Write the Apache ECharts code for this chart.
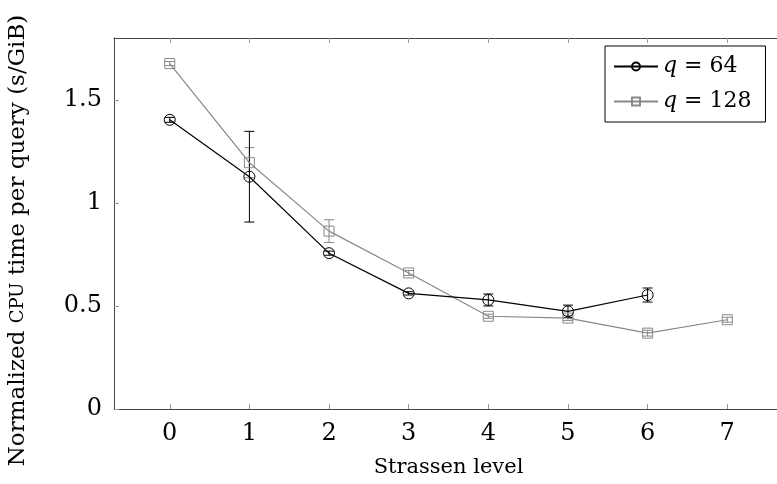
<!DOCTYPE html>
<html>
<head>
<meta charset="utf-8">
<script src="https://cdn.jsdelivr.net/npm/echarts@6/dist/echarts.min.js"></script>
<style>
  html, body { margin: 0; padding: 0; background: #fff; }
  #chart { width: 777px; height: 484px; }
</style>
</head>
<body>
<div id="chart"></div>
<script>
// Strassen level
let levels64 = [0, 1, 2, 3, 4, 5, 6];
let levels128 = [0, 1, 2, 3, 4, 5, 6, 7];

// normalized cpu time (s/GiB)
let q64 = [1.403, 1.127, 0.756, 0.561, 0.529, 0.474, 0.553];
let q64Err = [0.012, 0.22, 0.01, 0.008, 0.029, 0.03, 0.034];

let q128 = [1.676, 1.195, 0.863, 0.66, 0.45, 0.441, 0.368, 0.433];
let q128Err = [0.01, 0.073, 0.055, 0.012, 0.01, 0.012, 0.014, 0.012];

let xTicks = [0, 1, 2, 3, 4, 5, 6, 7];
let yTicks = [0, 0.5, 1, 1.5];

const FONT = 'DejaVu Serif';
const GREY = '#888888';

let chart = echarts.init(document.getElementById('chart'), null, { renderer: 'canvas' });

function pairs(xs, ys) {
  return xs.map((x, i) => [x, ys[i]]);
}

function errData(xs, ys, es) {
  return xs.map((x, i) => [x, ys[i] - es[i], ys[i] + es[i]]);
}

//误差线
function errSeries(name, data, color) {
  return {
    name: name,
    type: 'custom',
    silent: true,
    z: 3,
    data: data,
    renderItem(params, api) {
      let x = api.value(0);
      let lo = api.coord([x, api.value(1)]);
      let hi = api.coord([x, api.value(2)]);
      let w = 5;
      let style = { stroke: color, lineWidth: 1 };
      return {
        type: 'group',
        children: [
          { type: 'line', shape: { x1: lo[0], y1: lo[1], x2: hi[0], y2: hi[1] }, style },
          { type: 'line', shape: { x1: lo[0] - w, y1: lo[1], x2: lo[0] + w, y2: lo[1] }, style },
          { type: 'line', shape: { x1: hi[0] - w, y1: hi[1], x2: hi[0] + w, y2: hi[1] }, style }
        ]
      };
    }
  };
}

let tickStyle = { color: '#999', width: 1 };
let frameStyle = { color: '#444', width: 1 };

let option = {
  backgroundColor: '#ffffff',
  animation: false,
  grid: { left: 114, top: 38, width: 669, height: 371, containLabel: false, outerBoundsMode: 'none' },
  legend: {
    left: 605,
    top: 46,
    orient: 'vertical',
    data: ['q64', 'q128'],
    backgroundColor: '#fff',
    borderColor: '#000',
    borderWidth: 1,
    borderRadius: 0,
    padding: [6, 14, 6, 8],
    itemGap: 6,
    itemWidth: 44,
    itemHeight: 10,
    formatter: name => name === 'q64' ? '{i|q} = 64' : '{i|q} = 128',
    textStyle: {
      fontFamily: FONT,
      fontSize: 22,
      lineHeight: 29,
      color: '#000',
      rich: {
        i: { fontFamily: FONT, fontStyle: 'italic', fontSize: 22, lineHeight: 29, color: '#000' }
      }
    }
  },
  xAxis: [{
    type: 'value',
    min: -0.7,
    max: 7.7,
    name: 'Strassen level',
    nameLocation: 'middle',
    nameGap: 48,
    nameTextStyle: { fontFamily: FONT, fontSize: 21, color: '#000' },
    axisLine: { show: true, lineStyle: frameStyle },
    axisTick: { show: true, inside: true, length: 5, customValues: xTicks, lineStyle: tickStyle },
    axisLabel: { customValues: xTicks, margin: 13, fontFamily: FONT, fontSize: 24, color: '#000' },
    splitLine: { show: false }
  }, {
    type: 'value',
    position: 'top',
    min: -0.7,
    max: 7.7,
    axisLine: { show: true, onZero: false, lineStyle: frameStyle },
    axisTick: { show: true, inside: true, length: 5, customValues: xTicks, lineStyle: tickStyle },
    axisLabel: { show: false },
    splitLine: { show: false }
  }],
  yAxis: {
    type: 'value',
    min: 0,
    max: 1.8,
    name: 'Normalized {sc|CPU} time per query (s/GiB)',
    nameLocation: 'middle',
    nameGap: 84,
    nameRotate: 90,
    nameTextStyle: {
      fontFamily: FONT, fontSize: 23, color: '#000',
      padding: [0, 34, 0, 0],
      rich: { sc: { fontFamily: FONT, fontSize: 18, color: '#000' } }
    },
    axisLine: { show: true, onZero: false, lineStyle: frameStyle },
    axisTick: { show: true, inside: true, length: 5, customValues: yTicks, lineStyle: tickStyle },
    axisLabel: { customValues: yTicks, margin: 12, fontFamily: FONT, fontSize: 24, color: '#000' },
    splitLine: { show: false }
  },
  series: [
    errSeries('err128', errData(levels128, q128, q128Err), GREY),
    errSeries('err64', errData(levels64, q64, q64Err), '#000'),
    {
      name: 'q128',
      type: 'line',
      z: 4,
      data: pairs(levels128, q128),
      symbol: 'rect',
      symbolSize: 10,
      showAllSymbol: true,
      lineStyle: { color: GREY, width: 1.2 },
      itemStyle: { color: 'rgba(0,0,0,0)', borderColor: GREY, borderWidth: 1 }
    },
    {
      name: 'q64',
      type: 'line',
      z: 5,
      data: pairs(levels64, q64),
      symbol: 'circle',
      symbolSize: 11,
      showAllSymbol: true,
      lineStyle: { color: '#000', width: 1.2 },
      itemStyle: { color: 'rgba(0,0,0,0)', borderColor: '#000', borderWidth: 1 }
    }
  ]
};

chart.setOption(option);
</script>
</body>
</html>
